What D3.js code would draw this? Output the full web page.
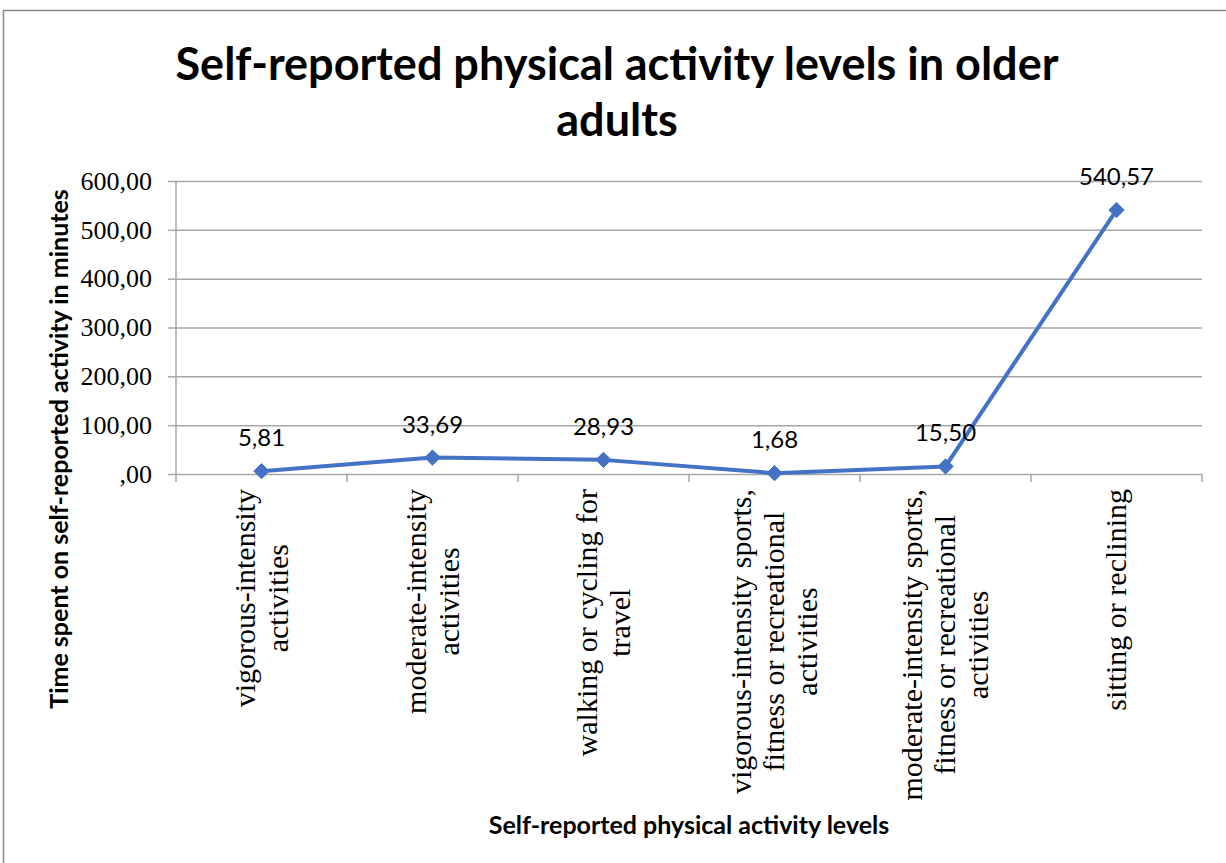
<!DOCTYPE html>
<html>
<head>
<meta charset="utf-8">
<script src="https://cdn.jsdelivr.net/npm/d3@7"></script>
<style>
  html, body { margin: 0; padding: 0; background: #fff; }
  svg { display: block; }
</style>
</head>
<body>
<svg id="chart" width="1226" height="863"></svg>
<script>
// data
const categories = [
  ["vigorous-intensity", "activities"],
  ["moderate-intensity", "activities"],
  ["walking or cycling for", "travel"],
  ["vigorous-intensity sports,", "fitness or recreational", "activities"],
  ["moderate-intensity sports,", "fitness or recreational", "activities"],
  ["sitting or reclining"]
];
const values = [5.81, 33.69, 28.93, 1.68, 15.50, 540.57];
const yTicks = [0, 100, 200, 300, 400, 500, 600];

const svg = d3.select("#chart");
const plot = { left: 176, right: 1202, top: 181, bottom: 474 };

// outer chart border (right/bottom run off the page)
svg.append("rect")
  .attr("x", 3.5).attr("y", 10.5)
  .attr("width", 1300).attr("height", 900)
  .attr("fill", "none").attr("stroke", "#8a8a8a").attr("stroke-width", 1.5);

// scales
const keys = categories.map((c, i) => i);
const x = d3.scaleBand().domain(keys).range([plot.left, plot.right]).padding(0);
const y = d3.scaleLinear().domain([0, 600]).range([plot.bottom, plot.top]);
const cx = i => x(i) + x.bandwidth() / 2;

// format like "100,00" and ",00"
const fmt = v => {
  const s = v.toFixed(2).replace(".", ",");
  return s.startsWith("0,") ? s.slice(1) : s;
};

// gridlines + y axis
const yAxis = svg.append("g")
  .attr("transform", `translate(${plot.left},0)`)
  .call(d3.axisLeft(y).tickValues(yTicks).tickSize(8).tickPadding(16).tickFormat(fmt));
yAxis.select(".domain").remove();
yAxis.selectAll(".tick line").clone()
  .attr("x1", 0).attr("x2", plot.right - plot.left);
yAxis.selectAll(".tick line").attr("stroke", "#a6a6a6").attr("stroke-width", 1.5);
yAxis.selectAll(".tick text")
  .attr("font-family", "'Liberation Serif', 'Times New Roman', serif")
  .attr("font-size", 26).attr("fill", "#000");

// vertical axis line
svg.append("line")
  .attr("x1", plot.left).attr("x2", plot.left)
  .attr("y1", plot.top).attr("y2", plot.bottom + 8)
  .attr("stroke", "#a6a6a6").attr("stroke-width", 1.5);

// x axis tick marks on band edges
const edges = keys.map(i => x(i)).concat([plot.right]);
svg.append("g").selectAll("line")
  .data(edges.slice(1))
  .join("line")
  .attr("x1", d => d).attr("x2", d => d)
  .attr("y1", plot.bottom).attr("y2", plot.bottom + 8)
  .attr("stroke", "#a6a6a6").attr("stroke-width", 1.5);

// category labels, rotated, lines centred on the longest one
const labelFont = "'Liberation Serif', 'Times New Roman', serif";
const lineH = 33;
categories.forEach((lines, i) => {
  const g = svg.append("g")
    .attr("transform", `translate(${cx(i)},${plot.bottom + 15}) rotate(-90)`);
  const texts = g.selectAll("text")
    .data(lines)
    .join("text")
    .attr("font-family", labelFont)
    .attr("font-size", 30)
    .attr("fill", "#000")
    .attr("text-anchor", "middle")
    .attr("y", (d, j) => (j - (lines.length - 1) / 2) * lineH)
    .attr("dy", "0.32em")
    .text(d => d);
  const longest = d3.max(texts.nodes(), n => n.getComputedTextLength());
  texts.attr("x", -longest / 2);
});

// line + markers
const line = d3.line().x((d, i) => cx(i)).y(d => y(d));
svg.append("path")
  .datum(values)
  .attr("d", line)
  .attr("fill", "none")
  .attr("stroke", "#4472C4")
  .attr("stroke-width", 4)
  .attr("stroke-linejoin", "round");

svg.append("g").selectAll("path")
  .data(values)
  .join("path")
  .attr("transform", (d, i) => `translate(${cx(i)},${y(d)})`)
  .attr("d", d3.symbol(d3.symbolDiamond2, 150))
  .attr("fill", "#4472C4")
  .attr("stroke", "#4472C4");

// data labels
svg.append("g").selectAll("text")
  .data(values)
  .join("text")
  .attr("x", (d, i) => cx(i))
  .attr("y", d => y(d) - 25)
  .attr("text-anchor", "middle")
  .attr("font-family", "Lato, Carlito, Calibri, sans-serif")
  .attr("font-size", 24)
  .attr("fill", "#000")
  .text(fmt);

// titles
const titleFont = "Lato, Carlito, Calibri, sans-serif";
const title = svg.append("text")
  .attr("text-anchor", "middle")
  .attr("font-family", titleFont)
  .attr("font-weight", "bold")
  .attr("font-size", 45)
  .attr("fill", "#000");
title.append("tspan").attr("x", 617).attr("y", 80).text("Self-reported physical activity levels in older");
title.append("tspan").attr("x", 617).attr("y", 136).text("adults");

svg.append("text")
  .attr("transform", "translate(68,449) rotate(-90)")
  .attr("text-anchor", "middle")
  .attr("font-family", titleFont)
  .attr("font-weight", "bold")
  .attr("font-size", 25)
  .attr("fill", "#000")
  .text("Time spent on self-reported activity in minutes");

svg.append("text")
  .attr("x", 689).attr("y", 834)
  .attr("text-anchor", "middle")
  .attr("font-family", titleFont)
  .attr("font-weight", "bold")
  .attr("font-size", 25)
  .attr("fill", "#000")
  .text("Self-reported physical activity levels");
</script>
</body>
</html>
